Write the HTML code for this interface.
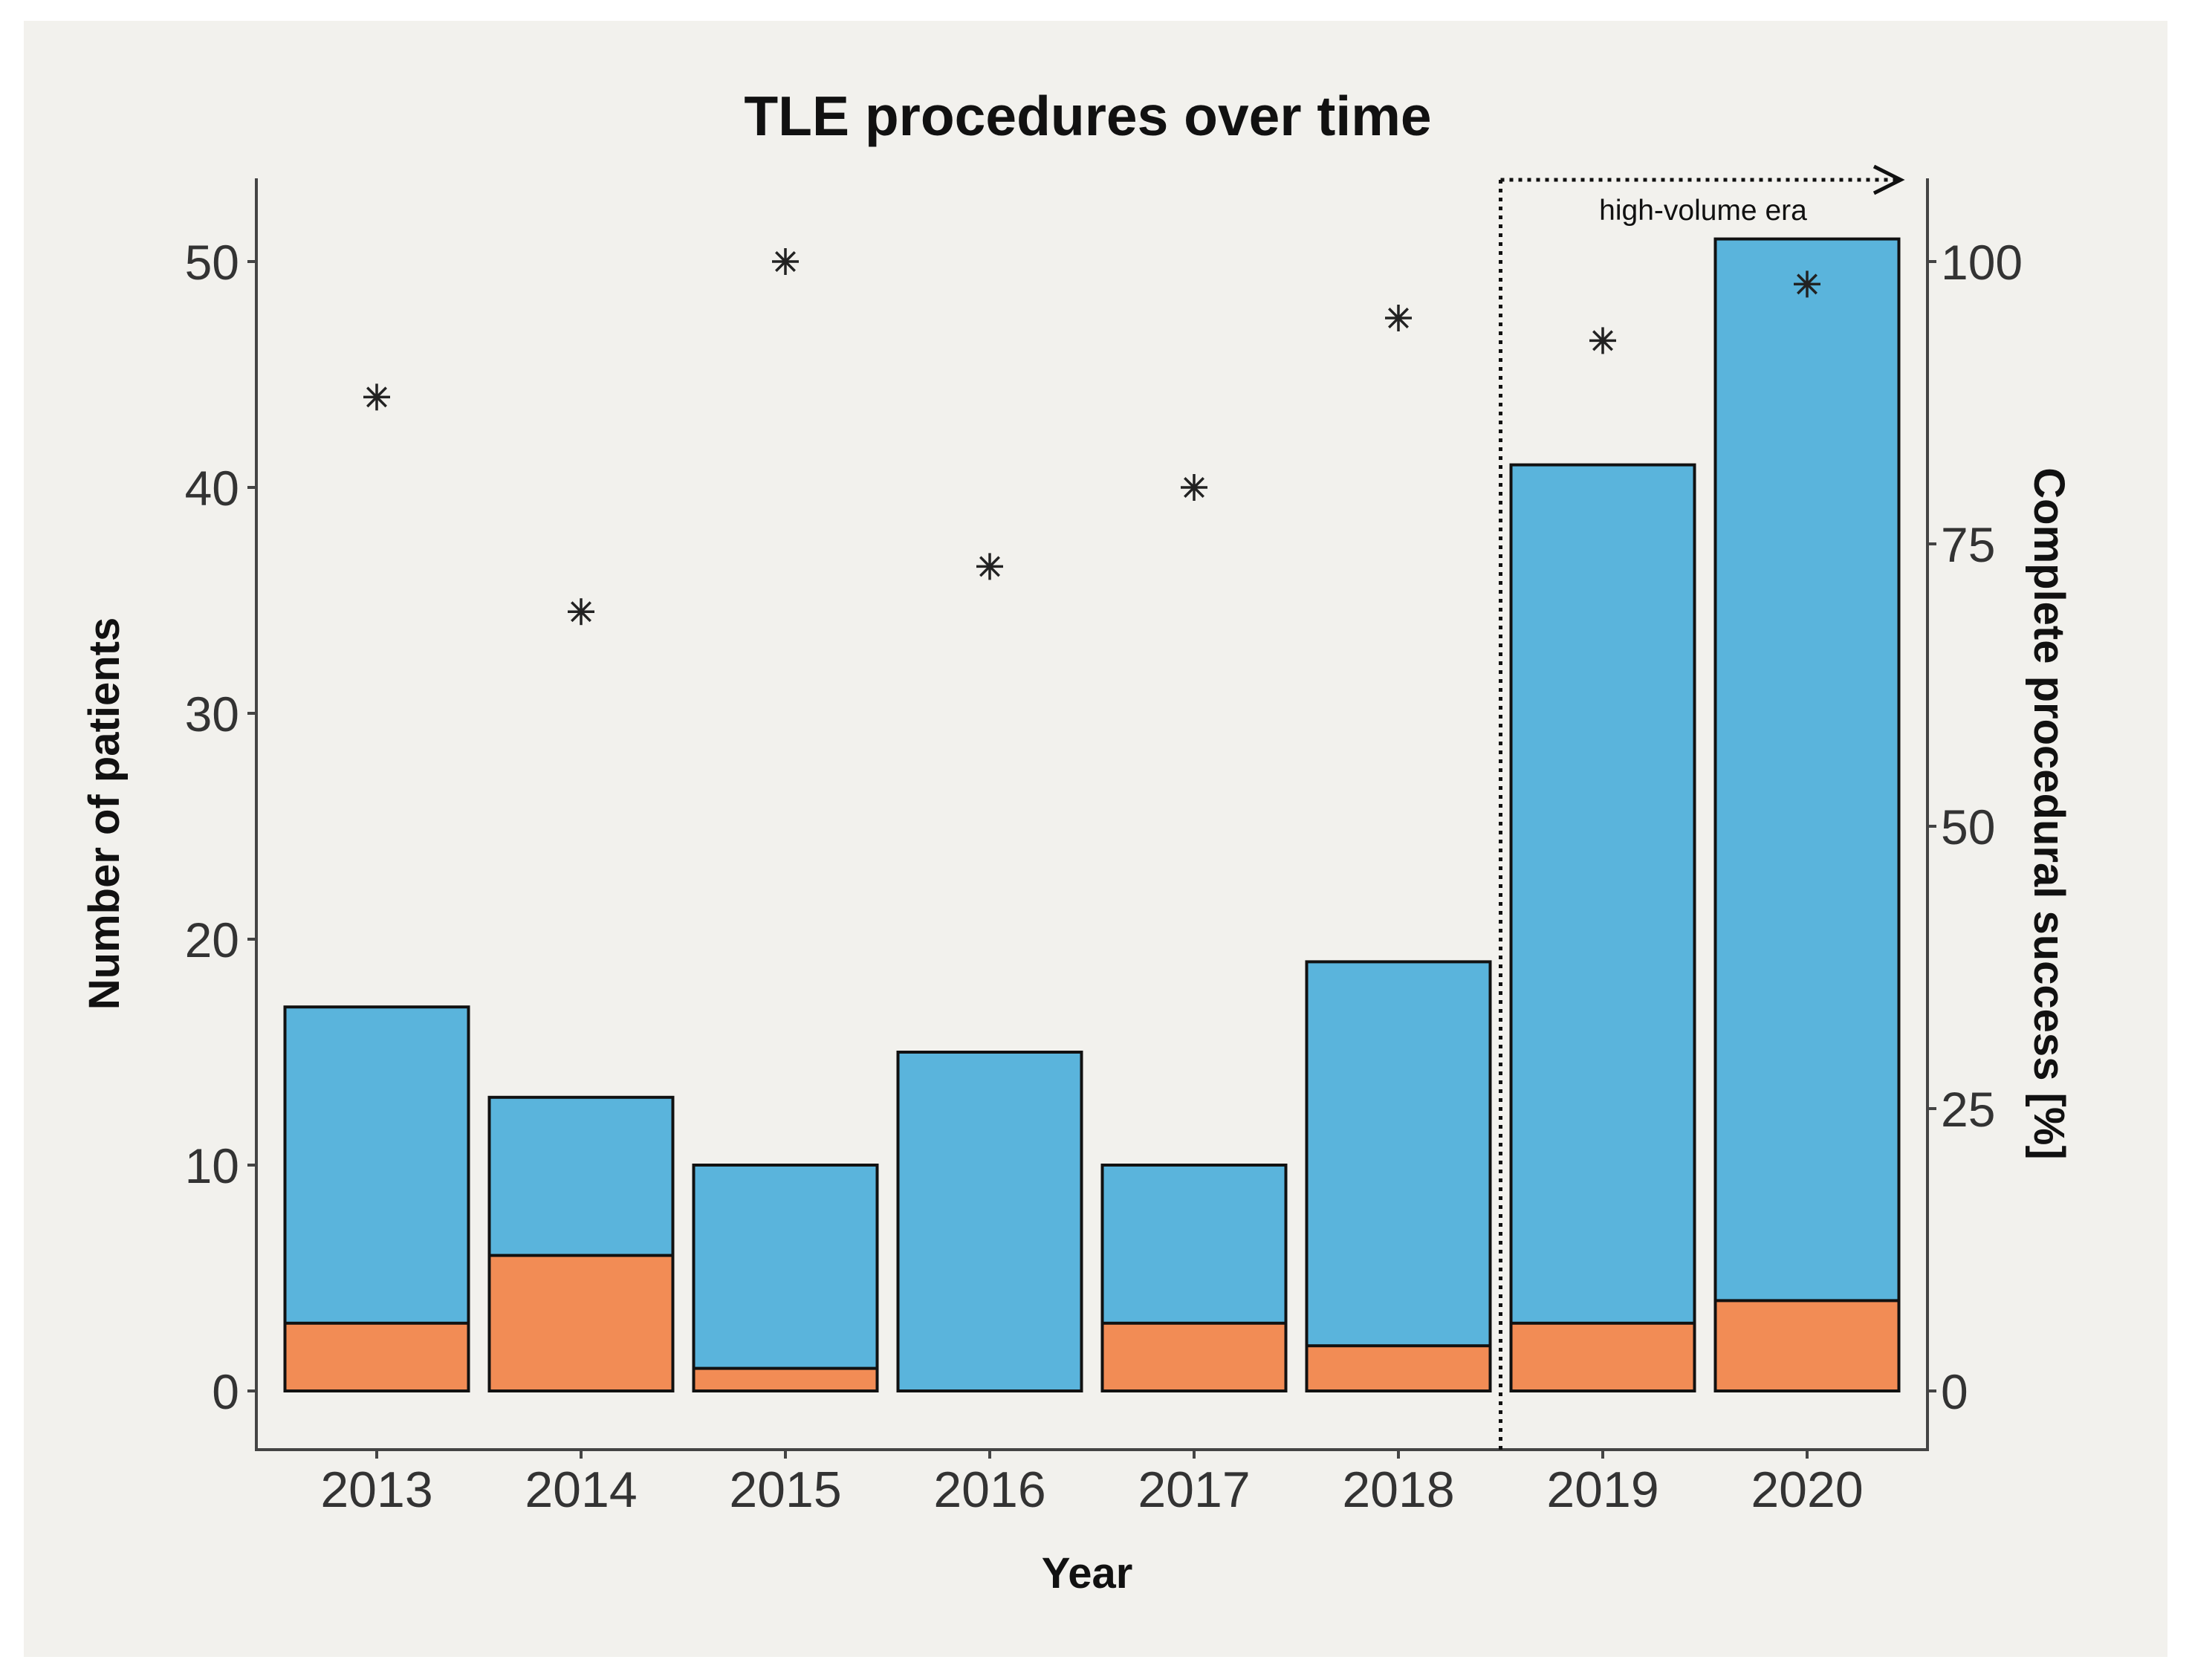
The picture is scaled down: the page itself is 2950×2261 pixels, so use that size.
<!DOCTYPE html>
<html><head><meta charset="utf-8"><style>
html,body{margin:0;padding:0;background:#fff}
svg{display:block}
text{font-family:"Liberation Sans",Arial,sans-serif}
</style></head><body>
<svg id="chart" width="2950" height="2261" viewBox="0 0 2950 2261">
<rect x="32" y="28" width="2885" height="2202" fill="#f2f1ed"/>
<text x="1464" y="182" text-anchor="middle" font-size="75" font-weight="bold" fill="#111">TLE procedures over time</text>
<g id="plot"></g>
<text x="1463" y="2137" text-anchor="middle" font-size="58" font-weight="bold" fill="#111">Year</text>
<text transform="translate(160,1095) rotate(-90)" text-anchor="middle" font-size="58" font-weight="bold" fill="#111">Number of patients</text>
<text transform="translate(2738,1095) rotate(90)" text-anchor="middle" font-size="58" font-weight="bold" fill="#111">Complete procedural success [%]</text>
</svg>
<script>
const years = ['2013','2014','2015','2016','2017','2018','2019','2020'];
const totalPatients = [17,13,10,15,10,19,41,51];
const failedPatients = [3,6,1,0,3,2,3,4];
const successPct = [88,69,100,73,80,95,93,98];
const leftTicks = [0,10,20,30,40,50];
const rightTicks = [0,25,50,75,100];

const NS='http://www.w3.org/2000/svg';
const g=document.getElementById('plot');
const x0=507, step=275, bw=247;
const yL=v=>1872-v*30.4;
const yR=v=>1872-v*15.2;
const xC=i=>x0+i*step;
function mk(t,a,p){const e=document.createElementNS(NS,t);for(const k in a)e.setAttribute(k,a[k]);(p||g).appendChild(e);return e;}

years.forEach((yr,i)=>{
  const xl=xC(i)-bw/2;
  const b=mk('rect',{x:xl,y:yL(totalPatients[i]),width:bw,height:yL(0)-yL(totalPatients[i]),fill:'#5ab4dc',stroke:'#111','stroke-width':4});
  
  
  const o=mk('rect',{x:xl,y:yL(failedPatients[i]),width:bw,height:yL(0)-yL(failedPatients[i]),fill:'#f28c55',stroke:'#111','stroke-width':4});
  
  
});
years.forEach((yr,i)=>{
  const cx=xC(i), cy=yR(successPct[i]), r=18;
  const s=mk('g',{stroke:'#222','stroke-width':3.5});
  
  
  mk('line',{x1:cx,y1:cy-r,x2:cx,y2:cy+r},s);
  mk('line',{x1:cx-r,y1:cy,x2:cx+r,y2:cy},s);
  const d=r*0.707;
  mk('line',{x1:cx-d,y1:cy-d,x2:cx+d,y2:cy+d},s);
  mk('line',{x1:cx-d,y1:cy+d,x2:cx+d,y2:cy-d},s);
});
let a=mk('line',{x1:345,y1:240,x2:345,y2:1953,stroke:'#444','stroke-width':4});

a=mk('line',{x1:2594,y1:240,x2:2594,y2:1953,stroke:'#444','stroke-width':4});

a=mk('line',{x1:343,y1:1951,x2:2596,y2:1951,stroke:'#444','stroke-width':4});

leftTicks.forEach(v=>{
  mk('line',{x1:333,y1:yL(v),x2:345,y2:yL(v),stroke:'#444','stroke-width':4});
  const t=mk('text',{x:322,y:yL(v)+24,'text-anchor':'end','font-size':66,fill:'#333'});
  t.textContent=v;
  
  
});
rightTicks.forEach(v=>{
  mk('line',{x1:2594,y1:yR(v),x2:2606,y2:yR(v),stroke:'#444','stroke-width':4});
  const t=mk('text',{x:2612,y:yR(v)+24,'text-anchor':'start','font-size':66,fill:'#333'});
  t.textContent=v;
  
  
});
years.forEach((yr,i)=>{
  mk('line',{x1:xC(i),y1:1951,x2:xC(i),y2:1963,stroke:'#444','stroke-width':4});
  const t=mk('text',{x:xC(i),y:2028,'text-anchor':'middle','font-size':68,fill:'#333'});
  t.textContent=yr;
  
  
});
const xd=x0+5.5*step;
a=mk('line',{x1:xd,y1:242,x2:xd,y2:1951,stroke:'#111','stroke-width':5,'stroke-dasharray':'5 7'});

a=mk('line',{x1:xd,y1:242,x2:2556,y2:242,stroke:'#111','stroke-width':5,'stroke-dasharray':'5 7'});

a=mk('polyline',{points:'2522,224 2558,242 2522,260',fill:'none',stroke:'#111','stroke-width':5});

a=mk('text',{x:2292,y:296,'text-anchor':'middle','font-size':39,fill:'#111'});
a.textContent='high-volume era';

</script>
</body></html>
